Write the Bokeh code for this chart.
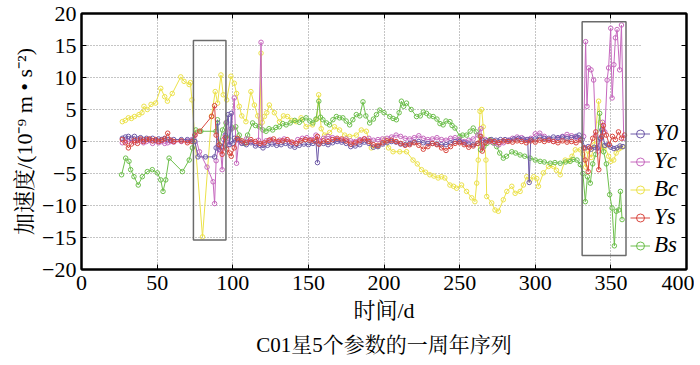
from bokeh.plotting import figure
from bokeh.models import (Legend, LegendItem, LinearAxis, Title, FixedTicker, Range1d)
from bokeh.embed import file_html
from bokeh.resources import INLINE

# ---------------- data ----------------
y0_x = [27, 29, 31, 33, 35, 37, 39, 41, 43, 45, 47, 49, 51, 53, 55, 57, 59, 61, 66, 70, 73, 75,
        77, 82, 88, 89, 90, 91, 93, 95, 97, 98, 99, 100, 101,
        103, 106, 109, 112, 115, 118, 120, 123, 126, 129, 132, 135, 138, 141, 144, 147, 150, 153, 155, 156, 157,
        160, 163, 166, 169, 172, 175, 178, 181, 184, 187, 190, 193, 196, 199, 202, 205, 208, 211, 214, 217,
        220, 223, 226, 229, 232, 235, 238, 241, 244, 247, 250, 253, 256, 259, 262, 265, 268, 271, 274, 277,
        280, 283, 286, 289, 292, 295, 296, 297, 300, 303, 306, 309, 312, 315, 318, 321, 324, 327, 329, 331,
        333, 335, 337, 339, 341, 343, 344, 346, 348, 350, 352, 354, 356, 358]
y0_v = [0.5, 0.7, 0.8, 0.5, 0.8, 0.4, 0.6, 0.3, 0.5, 0.3, 0.5, 0.2, 0.4, 0.3, 0.5, 0.3, 0.2, 0.3, 0.3, 0.3, 0.1, 0.0,
        -2.4, -2.4, -2.4, -1.0, 2.9, -1.2, -0.8, 1.0, 4.2, -0.5, 4.4, -0.3, 0.5,
        0.3, -0.3, -0.5, -0.2, -0.7, -0.6, -1.0, -0.6, -0.4, -0.6, -0.5, -0.3, -0.7, -0.9, -0.6, -0.4, -0.5, -0.3, 0.0, -3.3, -0.4,
        -0.3, -0.5, -0.2, 0.0, -0.1, -0.3, -0.8, -0.7, -0.5, -0.1, -0.3, -0.9, -0.8, -0.4, -0.2, 0.0, -0.1, -0.4, -0.5, -0.3,
        -0.1, 0.0, -0.2, -0.3, -0.3, -0.4, -0.5, -0.5, -0.2, 0.0, 0.0, -0.2, -0.4, -0.5, -0.3, 0.2, 0.1, 0.3, 0.2, 0.3,
        0.3, 0.2, 0.4, 0.5, 0.4, 0.3, -6.4, 0.3, 0.4, 0.7, 0.5, 0.5, 0.7, 0.6, 0.7, 0.5, 0.6, 0.8, 1.0, 0.3,
        -1.0, -0.8, -1.2, -0.9, -1.0, 0.5, 1.8, -0.6, -0.5, -0.9, -1.1, -1.0, -0.7, -0.8]

ys_x = [27, 29, 31, 33, 35, 37, 39, 41, 43, 45, 47, 49, 51, 53, 55, 57, 59, 61, 66, 70, 73, 75,
        78, 86, 88, 89, 91, 93, 95, 96, 98, 99, 101, 103,
        106, 109, 112, 115, 118, 121, 124, 127, 130, 133, 136, 139, 142, 145, 148, 151, 154, 156, 157,
        160, 163, 166, 169, 172, 175, 178, 181, 184, 187, 190, 193, 196, 199, 202, 205, 208, 211, 214, 217,
        220, 223, 226, 229, 232, 235, 238, 241, 244, 247, 250, 253, 256, 259, 262, 264, 265, 267, 270, 273,
        276, 279, 282, 285, 288, 291, 294, 297, 300, 303, 306, 309, 312, 315, 318, 321, 324, 327, 330,
        332, 333, 335, 336, 338, 340, 342, 344, 345, 347, 349, 351, 353, 355, 357, 359]
ys_v = [0.3, -0.2, -1.0, -0.4, 0.2, -0.3, 0.4, 0.0, 0.3, 0.4, 0.1, 0.3, 0.0, 0.2, 0.4, 1.3, 0.2, 0.0, 0.1, -0.2, 0.0, 1.0,
        1.6, 3.9, 5.6, 1.0, -0.5, -2.0, 0.6, -1.2, -1.8, -2.3, -1.0, 0.5,
        0.1, -0.2, 0.3, 0.0, -0.3, -0.2, 0.2, 0.4, 0.0, 0.1, 0.3, -0.1, -0.3, 0.1, 0.3, 0.2, 0.1, 0.8, -0.4,
        0.1, 0.0, 0.3, 0.5, 0.4, 0.1, -0.4, -0.2, 0.1, 0.4, 0.0, -0.5, -0.6, -0.2, 0.1, 0.2, 0.0, -0.3, -0.6, -0.5,
        -0.2, -0.6, -1.2, -0.8, -0.3, -0.5, -1.0, -1.4, -0.8, -0.3, -0.2, -0.5, -0.9, -0.7, -0.3, 0.8, -1.5, -0.2, 0.1, 0.0,
        -0.2, 0.1, 0.0, -0.1, 0.1, 0.0, -0.2, 0.1, -0.1, 0.2, 0.0, 0.2, 0.0, -0.2, 0.1, -0.1, 0.0, -0.2, 0.2,
        -1.0, -2.9, -4.7, -1.0, 0.5, 1.5, -4.4, 0.8, 2.5, 1.0, -0.5, 0.8, 0.3, 1.5, 0.5, 1.0]

yc_x = [27, 29, 31, 33, 35, 37, 39, 41, 43, 45, 47, 49, 51, 53, 55, 57, 59, 61, 66, 70, 73, 75,
        78, 83, 87, 88, 89, 90.5, 92, 93, 94, 96, 97, 99, 101, 102.5, 104,
        106, 109, 112, 115, 117, 118.7, 119.5, 122, 125, 128, 131, 134, 137, 140, 143, 146, 149, 152, 155, 157,
        160, 163, 166, 169, 172, 175, 178, 181, 184, 187, 190, 193, 196, 199, 202, 205, 208, 211, 214, 217,
        220, 223, 226, 229, 232, 235, 238, 241, 244, 247, 250, 253, 256, 259, 262, 264, 265, 267, 270, 273,
        276, 279, 282, 285, 288, 291, 294, 297, 300, 303, 306, 309, 312, 315, 318, 321, 324, 327, 330, 332,
        333.3, 334.2, 335.3, 336.9, 338.6, 340, 341.5, 343, 344.5, 346, 347.5, 348.5, 349.9, 350.8, 352,
        353, 354.1, 355.8, 357, 358.5]
yc_v = [-0.2, 0.2, 0.0, 0.3, -0.1, 0.2, 0.1, -0.2, 0.0, 0.2, -0.3, 0.1, -0.2, 0.0, -0.3, -0.2, 0.0, -0.1, 0.0, 0.1, 0.3, 1.0,
        -1.6, -4.0, -6.3, -9.7, -3.0, -0.8, -1.5, -4.4, 0.3, 3.0, -0.5, 2.0, 6.8, -3.4, 0.2,
        -0.2, 0.4, 0.0, -0.3, 0.2, 15.5, -0.5, 0.1, 0.3, -0.1, 0.2, 0.4, 0.0, -0.2, 0.3, 0.5, 0.6, 0.3, 1.0, 0.2,
        0.5, 0.8, 0.6, 0.3, 0.2, 0.4, 0.1, 0.0, 0.3, 0.4, 0.5, 0.2, 0.3, 0.4, 0.5, 0.7, 1.0, 0.8, 0.5, 0.4,
        0.6, 0.9, 0.5, 0.3, 0.4, 0.6, 0.3, 0.2, 0.5, 0.6, 0.3, 0.0, 0.2, 0.4, 1.0, 2.0, -1.0, 0.3, 0.0, -0.3,
        -0.5, -0.2, 0.2, 0.5, 0.7, 0.6, 0.3, 0.5, 1.2, 1.3, 0.8, 0.3, 0.0, 0.5, 0.8, 1.1, 0.9, 0.6, 0.4, 0.8,
        15.6, 5.5, 11.5, 11.2, 9.6, 1.0, -1.5, 0.3, 3.0, 1.5, 9.6, 11.5, 17.7, 6.8, 12.0,
        16.2, 17.5, 11.2, 18.2, 0.5]

bc_x = [27, 29, 31, 33, 35, 38, 40, 41.3, 43.5, 46, 49, 52.4, 55, 56.8, 60, 65.6, 67.8, 71.2, 72, 73,
        80, 86, 88.4, 90, 92.2, 93.7, 96, 98.8, 101, 102.5, 104.3, 106, 108.7, 112, 114.3, 116.5, 118,
        118.7, 119.5, 120.9, 122.5, 124.2, 127.5, 130.9, 133.5, 136.3, 139, 141.9, 145.2, 148.5, 152.7,
        155.5, 156.8, 158.5, 160.7, 164, 167.3, 170.6, 174, 177.3, 181.7, 185, 188.3, 191.6, 196, 200.5,
        203, 206, 210.4, 214.9, 219.2, 222, 224.8, 227.5, 230.3, 233, 235.8, 238, 240.2, 243.6, 246, 248,
        251.3, 254.6, 258, 260.1, 261.3, 262.3, 263.5, 264.6, 265.6, 267.4, 267.9, 271.2, 273.4, 275.6,
        278.9, 281.2, 284.5, 286.7, 290, 292.2, 294.4, 296.6, 299, 301, 302.1, 305.4, 308.8, 312.1, 314,
        316.5, 319.8, 322, 324.3, 326.5, 329.8, 331.5, 333.3, 335, 337, 339, 341.9, 343, 344, 346, 348.5,
        350, 351.9, 353.5, 355, 356.3, 357.4]
bc_v = [3.1, 3.3, 3.7, 3.6, 3.9, 4.2, 4.5, 5.5, 5.0, 5.8, 6.0, 8.3, 7.0, 6.3, 7.5, 10.1, 9.4, 8.9, 9.2, 6.5,
        -14.9, 4.0, 7.8, 6.0, 10.4, 7.3, 6.5, 10.2, 9.1, 7.5, 5.5, 4.0, 3.1, 7.8, 5.7, 4.0, 2.5,
        13.8, 3.0, 3.9, 4.5, 5.7, 4.5, 3.1, 4.0, 3.9, 3.3, 3.1, 3.7, 2.3, 2.6,
        3.5, 7.3, 2.0, 1.0, 1.4, 2.3, 1.8, 1.0, 0.8, 1.0, 1.8, 1.6, -1.0, -0.8, 0.3,
        -1.0, -1.6, -1.6, -1.6, -2.9, -3.5, -4.4, -4.8, -5.2, -5.4, -5.7, -5.5, -5.7, -6.8, -7.0, -7.3,
        -6.8, -7.8, -8.8, -9.4, -6.5, -2.9, 4.7, 5.0, 2.3, -2.9, -8.6, -9.6, -10.7, -10.9,
        -9.1, -7.8, -7.0, -8.1, -7.8, -6.8, -5.5, -6.0, -5.5, -5.8, -7.0, -4.9, -3.9, -3.9, -4.5,
        -5.2, -2.9, -3.0, -2.3, -1.3, -1.3, -2.0, -4.0, -1.5, -2.5, -0.5, 6.3, 3.0, -1.3, -0.8, -2.3,
        -3.1, -2.9, -1.8, -1.2, -1.0, -0.8]

bs_x = [26.5, 29.2, 31.4, 32.5, 34.7, 37.5, 40.2, 43.5, 46.8, 50.1, 52.4, 53.9, 55.7, 57.9, 66.7, 71.2, 73.3,
        75.6, 78.9, 88.9, 89.9, 91, 93.2, 95.5, 97, 99.9, 102, 104.3, 107.6, 109.8, 113.1, 115, 117.6,
        120, 122, 124, 126.4, 128.5, 130.8, 133, 135.3, 138, 141, 144, 146, 148.5, 151, 153, 155, 156.9,
        158, 159.6, 162, 164, 166.2, 168.5, 170.6, 172.8, 175, 177.3, 179.4, 181.7, 184, 186.1, 188,
        190.5, 193, 195, 197.2, 200, 203.8, 206, 208.2, 210, 211.5, 213, 214.9, 218, 221.5, 224, 226,
        228.1, 230, 232.5, 235, 237, 239.1, 241, 243.6, 245, 246.9, 250.2, 252, 254.6, 257, 259, 261,
        263.5, 263.8, 266, 268, 270.1, 272, 274.5, 276.5, 278.9, 281, 284.5, 287, 290, 293, 296.6, 300,
        303.2, 306, 309.9, 313, 316.5, 320, 323.1, 325, 327.6, 329.8, 331.5, 333.1, 334.5, 336.4, 338,
        340, 342.6, 343.5, 345.2, 347, 349.2, 350.8, 352.3, 353.6, 355.2, 356.3, 357.4]
bs_v = [-5.2, -2.6, -3.1, -4.4, -5.5, -6.8, -5.5, -4.7, -4.4, -4.9, -6.0, -7.8, -6.0, -2.6, -4.7, -2.9, -1.0,
        1.8, 1.6, 1.6, 3.4, -0.5, 1.8, 2.9, 0.5, 2.1, 2.3, 1.0, -0.3, 1.0, 2.9, 2.5, 2.3,
        1.8, 1.6, 2.0, 1.8, 2.2, 2.3, 2.8, 2.6, 2.9, 3.3, 3.0, 3.4, 3.7, 3.2, 2.9, 3.5, 6.3,
        3.8, 3.4, 2.9, 2.6, 3.4, 3.9, 3.7, 3.7, 3.2, 2.6, 3.4, 4.2, 4.0, 6.2, 4.0,
        2.9, 3.5, 4.2, 4.9, 4.5, 3.9, 3.6, 3.4, 4.5, 6.3, 5.5, 6.0, 5.0, 3.9, 4.0, 4.6,
        4.4, 4.0, 3.9, 3.5, 2.8, 2.6, 3.2, 3.1, 2.5, 2.1, 0.8, 1.0, 1.0, 1.6, 2.1, 1.5,
        0.8, -1.3, -0.8, -0.3, 0.3, -0.2, -0.8, -1.8, -2.6, -2.3, -1.6, -1.8, -2.1, -2.3, -2.6, -2.9,
        -3.1, -3.2, -3.4, -3.3, -3.4, -3.2, -3.1, -2.8, -2.9, -3.6, -5.0, -9.4, -5.5, -6.5, -3.5,
        -2.0, 4.4, 0.5, -1.6, -3.5, -8.3, -10.4, -16.3, -10.9, -10.7, -7.8, -12.2]

series_names = ["Y0", "Yc", "Bc", "Ys", "Bs"]
series_colors = {"Y0": "#6e5aa8", "Yc": "#c668be", "Bc": "#ece24a", "Ys": "#d9473f", "Bs": "#6dbf4c"}

x_ticks = [0, 50, 100, 150, 200, 250, 300, 350, 400]
y_ticks = [-20, -15, -10, -5, 0, 5, 10, 15, 20]
x_grid = [50, 100, 150, 200, 250, 300, 350]
y_grid = [-15, -10, -5, 0, 5, 10, 15]
hgrid_x_end = 370

# highlight boxes: left, right, bottom, top
box_left = [74, 331]
box_right = [95.5, 360]
box_bottom = [-15.4, -17.8]
box_top = [15.8, 18.7]

# ---------------- figure ----------------
SERIF = "'Liberation Serif', 'Noto Serif CJK SC', 'Noto Sans CJK SC', serif"

p = figure(width=694, height=363, output_backend="svg", toolbar_location=None,
           x_range=Range1d(0, 400), y_range=Range1d(-20, 20),
           min_border_left=81, min_border_right=8, min_border_top=13, min_border_bottom=94)
p.background_fill_color = "white"
p.border_fill_color = "white"
p.outline_line_color = "black"
p.outline_line_width = 2

p.ygrid.visible = False
p.xgrid.ticker = FixedTicker(ticks=x_grid)
p.xgrid.grid_line_color = "#8a8a8a"
p.xgrid.grid_line_dash = "1 2"
p.xgrid.grid_line_width = 1

# horizontal dotted grid lines (stop short of the legend)
p.segment(x0=[0] * len(y_grid), x1=[hgrid_x_end] * len(y_grid), y0=y_grid, y1=y_grid,
          line_color="#8a8a8a", line_dash="1 2", line_width=1)

for ax in (p.xaxis[0], p.yaxis[0]):
    ax.major_tick_in = 5
    ax.major_tick_out = 0
    ax.minor_tick_line_color = None
    ax.axis_line_width = 2
    ax.major_tick_line_width = 1
    ax.major_label_text_font = SERIF
    ax.major_label_text_font_size = "22px"
    ax.major_label_text_color = "black"
    ax.axis_label_text_font = SERIF
    ax.axis_label_text_font_style = "normal"
    ax.axis_label_text_color = "black"

p.xaxis[0].ticker = FixedTicker(ticks=x_ticks)
p.yaxis[0].ticker = FixedTicker(ticks=y_ticks)
p.yaxis[0].major_label_overrides = {t: str(t).replace("-", "\u2212") for t in y_ticks}
p.xaxis[0].axis_label = "时间/d"
p.xaxis[0].axis_label_text_font_size = "22px"
p.xaxis[0].major_label_standoff = 6
p.xaxis[0].axis_label_standoff = 5
p.yaxis[0].axis_label = "加速度/(10\u207b\u2079 m \u2022 s\u207b\u00b2)"
p.yaxis[0].axis_label_text_font_size = "22px"
p.yaxis[0].major_label_standoff = 5
p.yaxis[0].axis_label_standoff = 2

# mirrored axes on top and right with inward ticks
top_ax = LinearAxis(ticker=FixedTicker(ticks=x_ticks), major_tick_in=5, major_tick_out=0,
                    minor_tick_line_color=None, major_label_text_font_size="0px",
                    major_label_standoff=0, axis_line_width=2)
right_ax = LinearAxis(ticker=FixedTicker(ticks=y_ticks), major_tick_in=5, major_tick_out=0,
                      minor_tick_line_color=None, major_label_text_font_size="0px",
                      major_label_standoff=0, axis_line_width=2)
p.add_layout(top_ax, "above")
p.add_layout(right_ax, "right")

data = {"Y0": (y0_x, y0_v), "Yc": (yc_x, yc_v), "Bc": (bc_x, bc_v), "Ys": (ys_x, ys_v), "Bs": (bs_x, bs_v)}
draw_order = ["Bc", "Bs", "Yc", "Y0", "Ys"]
renderers = {}
for name in draw_order:
    xs, vs = data[name]
    c = series_colors[name]
    ln = p.line(xs, vs, line_color=c, line_width=1)
    sc = p.scatter(xs, vs, marker="circle", size=4.5, line_color=c, fill_color=None, line_width=1)
    renderers[name] = [ln, sc]

p.quad(left=box_left, right=box_right, bottom=box_bottom, top=box_top,
       fill_color=None, line_color="#6b6b6b", line_width=1.5)

legend = Legend(items=[LegendItem(label=n, renderers=renderers[n]) for n in series_names],
                location=(549, 11), padding=0, margin=0, spacing=2,
                glyph_width=20, glyph_height=25, label_height=25, label_standoff=4,
                label_text_font=SERIF, label_text_font_style="italic",
                label_text_font_size="23px", label_text_color="black",
                background_fill_alpha=0, border_line_color=None)
p.add_layout(legend)

p.add_layout(Title(text="C01星5个参数的一周年序列", align="center", text_font=SERIF,
                   text_font_size="21px", text_font_style="normal", text_color="black",
                   standoff=10), "below")

open("out.html", "w").write(file_html(p, INLINE))
